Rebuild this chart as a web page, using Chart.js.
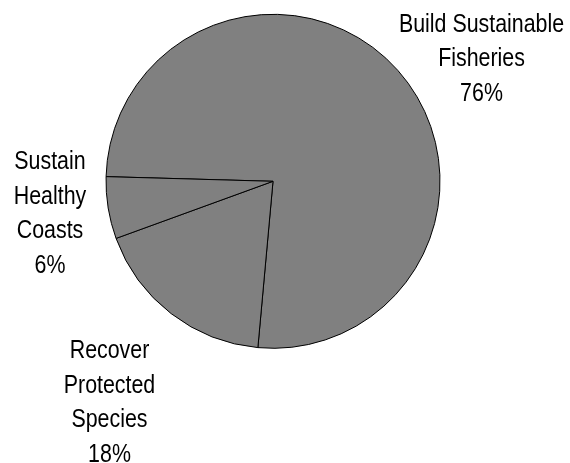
<!DOCTYPE html>
<html>
<head>
<meta charset="utf-8">
<title>Budget by goal</title>
<script src="https://cdn.jsdelivr.net/npm/chart.js@4/dist/chart.umd.min.js"></script>
<style>
    html, body { margin: 0; padding: 0; background: #fff; }
    #goalChart { display: block; }
</style>
</head>
<body>
<canvas id="goalChart" width="570" height="463"></canvas>
<script>
'use strict';

const goals = [
    ['Build Sustainable', 'Fisheries'],
    ['Recover', 'Protected', 'Species'],
    ['Sustain', 'Healthy', 'Coasts']
];
const shares = [76, 18, 6];

// where each label block sits, relative to the pie centre (x = text centre, y = first baseline)
const labelOffsets = [
    { dx: 208.5, dy: -149.6 },
    { dx: -163.5, dy: 177 },
    { dx: -223, dy: -12.3 }
];

// no narrow face installed, so squeeze the regular one horizontally
const LABEL_FONT = '25px "Liberation Sans", Arial, sans-serif';
const NARROW = 0.855;
const LINE_HEIGHT = 34.5;

const outsideLabels = {
    id: 'outsideLabels',
    afterDraw(chart) {
        const ctx = chart.ctx;
        const arcs = chart.getDatasetMeta(0).data;
        if (!arcs.length) return;
        const cx = arcs[0].x;
        const cy = arcs[0].y;

        ctx.save();
        ctx.font = LABEL_FONT;
        ctx.fillStyle = '#000';
        ctx.textAlign = 'center';
        ctx.textBaseline = 'alphabetic';
        goals.forEach((lines, i) => {
            const off = labelOffsets[i];
            const all = lines.concat([shares[i] + '%']);
            all.forEach((line, j) => {
                ctx.save();
                ctx.translate(cx + off.dx, cy + off.dy + j * LINE_HEIGHT);
                ctx.scale(NARROW, 1);
                ctx.fillText(line, 0, 0);
                ctx.restore();
            });
        });
        ctx.restore();
    }
};

new Chart(document.getElementById('goalChart'), {
    type: 'pie',
    data: {
        labels: goals.map(g => g.join(' ')),
        datasets: [{
            data: shares,
            backgroundColor: '#808080',
            borderColor: '#000',
            borderWidth: 1
        }]
    },
    options: {
        responsive: false,
        animation: false,
        rotation: 271.6,
        layout: {
            padding: { left: 105.5, top: 13.8, right: 129.5, bottom: 114.2 }
        },
        plugins: {
            legend: { display: false },
            tooltip: { enabled: false }
        }
    },
    plugins: [outsideLabels]
});
</script>
</body>
</html>
